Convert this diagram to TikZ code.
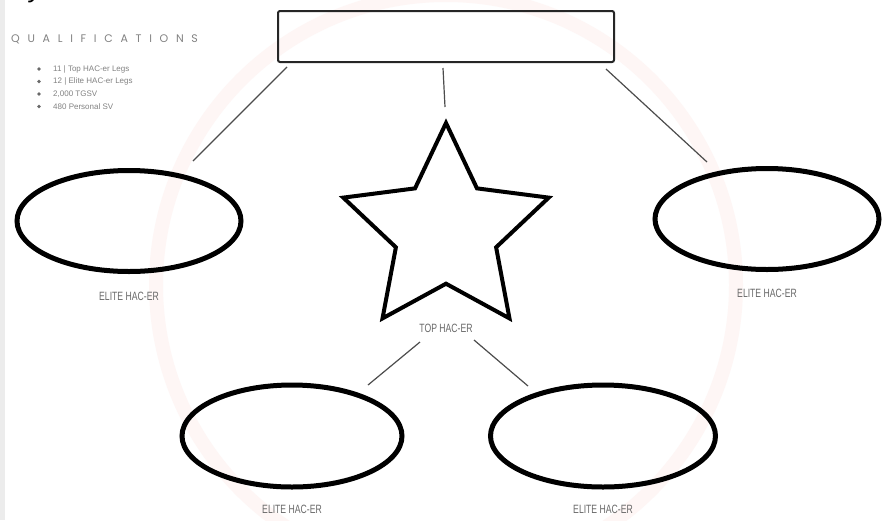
\documentclass[tikz,border=0pt]{standalone}
\usepackage{fontspec}
\setmainfont{Liberation Sans}
\newfontfamily\headfont[LetterSpace=70]{Poppins}
\usetikzlibrary{shapes.geometric}
\definecolor{wmark}{RGB}{254,246,245}
\definecolor{txtgray}{RGB}{105,105,105}
\definecolor{headgray}{RGB}{130,130,130}
\definecolor{edgegray}{RGB}{236,236,236}
\tikzset{
  bubble/.style={ellipse, draw=black, line width=5pt, inner sep=0pt},
  conn/.style={draw=black!70, line width=1.2pt},
  lbl/.style={text=txtgray, font=\fontsize{12}{12}\selectfont, inner sep=0pt},
  bullettxt/.style={text=headgray, font=\fontsize{8}{8}\selectfont, inner sep=0pt, anchor=west}
}
\newcommand{\narrowtxt}[1]{\scalebox{0.72}[1]{#1}}
\begin{document}
\begin{tikzpicture}[x=1pt,y=-1pt]
\useasboundingbox (0,0) rectangle (883,520);
\fill[white] (0,0) rectangle (883,520);
\fill[edgegray] (0,0) rectangle (5,520);
% faint watermark
\draw[wmark, line width=14pt] (446,285) circle[radius=290];
% logo fragment
\node[font=\fontsize{26}{26}\selectfont\itshape, anchor=base, inner sep=0pt] (logo) at (36,-3) {y};
% heading
\node[text=headgray, font=\headfont\fontsize{11}{11}\selectfont, anchor=west, inner sep=0pt] (qual) at (11,39) {QUALIFICATIONS};
\foreach \yy/\tt [count=\i] in {69/{11 | Top HAC-er Legs},81.5/{12 | Elite HAC-er Legs},94/{2,000 TGSV},106.5/{480 Personal SV}}{
  \fill[txtgray] (39,\yy) circle[radius=1.8];
  \node[bullettxt] (b\i) at (53,\yy) {\tt};
}
% top box
\node[draw=black!85, line width=2pt, rounded corners=2pt, minimum width=336pt, minimum height=51pt, inner sep=0pt] (box) at (446,36.5) {};
% star
\node[star, star points=5, star point ratio=2.05, minimum size=216pt, draw=black, line width=4pt, inner sep=0pt] (star) at (446,231) {};
\node[lbl] (starlbl) at (446,328) {\narrowtxt{TOP HAC-ER}};
% ellipses
\node[bubble, minimum width=224pt, minimum height=101pt] (el) at (129,221) {};
\node[bubble, minimum width=224pt, minimum height=101pt] (er) at (767,219) {};
\node[bubble, minimum width=220pt, minimum height=102pt] (bl) at (292,436) {};
\node[bubble, minimum width=225pt, minimum height=102pt] (br) at (603,436) {};
\node[lbl] (ell) at (129,296) {\narrowtxt{ELITE HAC-ER}};
\node[lbl] (erl) at (767,293) {\narrowtxt{ELITE HAC-ER}};
\node[lbl] (bll) at (292,509) {\narrowtxt{ELITE HAC-ER}};
\node[lbl] (brl) at (603,509) {\narrowtxt{ELITE HAC-ER}};
% connector ends
\coordinate (c1a) at (287,67); \coordinate (c1b) at (193,161);
\coordinate (c2a) at (443,68); \coordinate (c2b) at (445,107);
\coordinate (c3a) at (606,69); \coordinate (c3b) at (707,162);
\coordinate (c4a) at (420,342); \coordinate (c4b) at (368,385);
\coordinate (c5a) at (474,340); \coordinate (c5b) at (528,386);
\draw[conn] (c1a) -- (c1b);
\draw[conn] (c2a) -- (c2b);
\draw[conn] (c3a) -- (c3b);
\draw[conn] (c4a) -- (c4b);
\draw[conn] (c5a) -- (c5b);
\end{tikzpicture}
\end{document}
